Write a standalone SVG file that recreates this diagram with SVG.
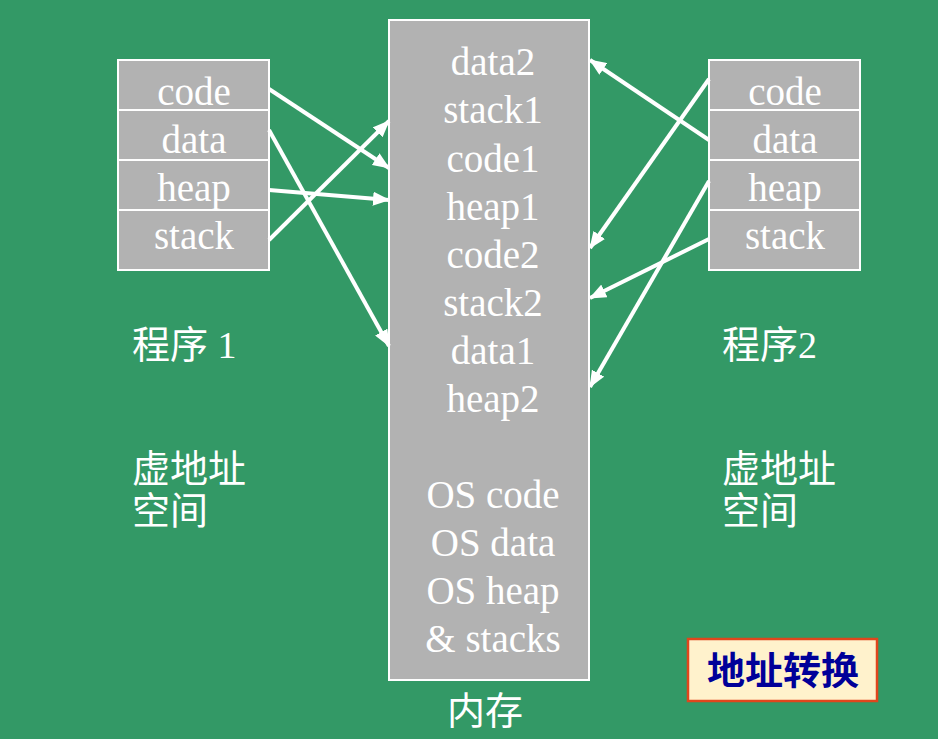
<svg xmlns="http://www.w3.org/2000/svg" width="938" height="739" viewBox="0 0 938 739">
<defs>
<style>
.bg{fill:#339966}
.box{fill:#B2B2B2;stroke:#FFFFFF;stroke-width:2}
.sep{stroke:#FFFFFF;stroke-width:2}
.t{font-family:"Liberation Serif","Noto Sans CJK SC",serif;font-size:39px;fill:#FFFFFF;text-anchor:middle}
.cn{font-family:"Liberation Serif","Noto Sans CJK SC",serif;font-size:38px;fill:#FFFFFF}
.arr{stroke:#FFFFFF;stroke-width:4;fill:none;marker-end:url(#ah)}
.note{fill:#FFF2CC;stroke:#E0461C;stroke-width:2.5}
.notet{font-family:"Noto Sans CJK SC",sans-serif;font-size:38px;font-weight:bold;fill:#000099;text-anchor:middle}
</style>
<marker id="ah" markerUnits="userSpaceOnUse" markerWidth="18" markerHeight="14" refX="16" refY="7" orient="auto">
<path d="M0,0 L17,7 L0,14 Z" fill="#FFFFFF"/>
</marker>
</defs>
<rect class="bg" x="0" y="0" width="938" height="739"/>

<g id="prog1">
<rect class="box" x="118" y="60" width="151" height="210"/>
<line class="sep" x1="118" y1="110" x2="269" y2="110"/>
<line class="sep" x1="118" y1="160" x2="269" y2="160"/>
<line class="sep" x1="118" y1="210" x2="269" y2="210"/>
<text class="t" x="194" y="105">code</text>
<text class="t" x="194" y="153">data</text>
<text class="t" x="194" y="201">heap</text>
<text class="t" x="194" y="249">stack</text>
</g>

<g id="prog2">
<rect class="box" x="709" y="60" width="151" height="210"/>
<line class="sep" x1="709" y1="110" x2="860" y2="110"/>
<line class="sep" x1="709" y1="160" x2="860" y2="160"/>
<line class="sep" x1="709" y1="210" x2="860" y2="210"/>
<text class="t" x="785" y="105">code</text>
<text class="t" x="785" y="153">data</text>
<text class="t" x="785" y="201">heap</text>
<text class="t" x="785" y="249">stack</text>
</g>

<g id="memory">
<rect class="box" x="389" y="20" width="200" height="660"/>
<text class="t" x="493" y="75">data2</text>
<text class="t" x="493" y="123">stack1</text>
<text class="t" x="493" y="172">code1</text>
<text class="t" x="493" y="220">heap1</text>
<text class="t" x="493" y="268">code2</text>
<text class="t" x="493" y="316">stack2</text>
<text class="t" x="493" y="364">data1</text>
<text class="t" x="493" y="412">heap2</text>
<text class="t" x="493" y="508">OS code</text>
<text class="t" x="493" y="556">OS data</text>
<text class="t" x="493" y="604">OS heap</text>
<text class="t" x="493" y="652">&amp; stacks</text>
</g>

<g id="labels">
<text class="cn" x="132" y="358">程序 1</text>
<text class="cn" x="722" y="358">程序2</text>
<text class="cn" x="132" y="482">虚地址</text>
<text class="cn" x="132" y="524">空间</text>
<text class="cn" x="722" y="482">虚地址</text>
<text class="cn" x="722" y="524">空间</text>
<text class="cn" x="447" y="724">内存</text>
</g>

<g id="addr-translate">
<rect class="note" x="688" y="639" width="189" height="62"/>
<text class="notet" x="783" y="684">地址转换</text>
</g>

<g id="connectors">
<line class="arr" x1="269" y1="89" x2="389" y2="168"/>
<line class="arr" x1="269" y1="130" x2="389" y2="346"/>
<line class="arr" x1="269" y1="190" x2="389" y2="200"/>
<line class="arr" x1="269" y1="240" x2="389" y2="121"/>
<line class="arr" x1="709" y1="140" x2="590" y2="60"/>
<line class="arr" x1="709" y1="79" x2="590" y2="248"/>
<line class="arr" x1="709" y1="239" x2="590" y2="298"/>
<line class="arr" x1="709" y1="181" x2="590" y2="387"/>
</g>
</svg>
